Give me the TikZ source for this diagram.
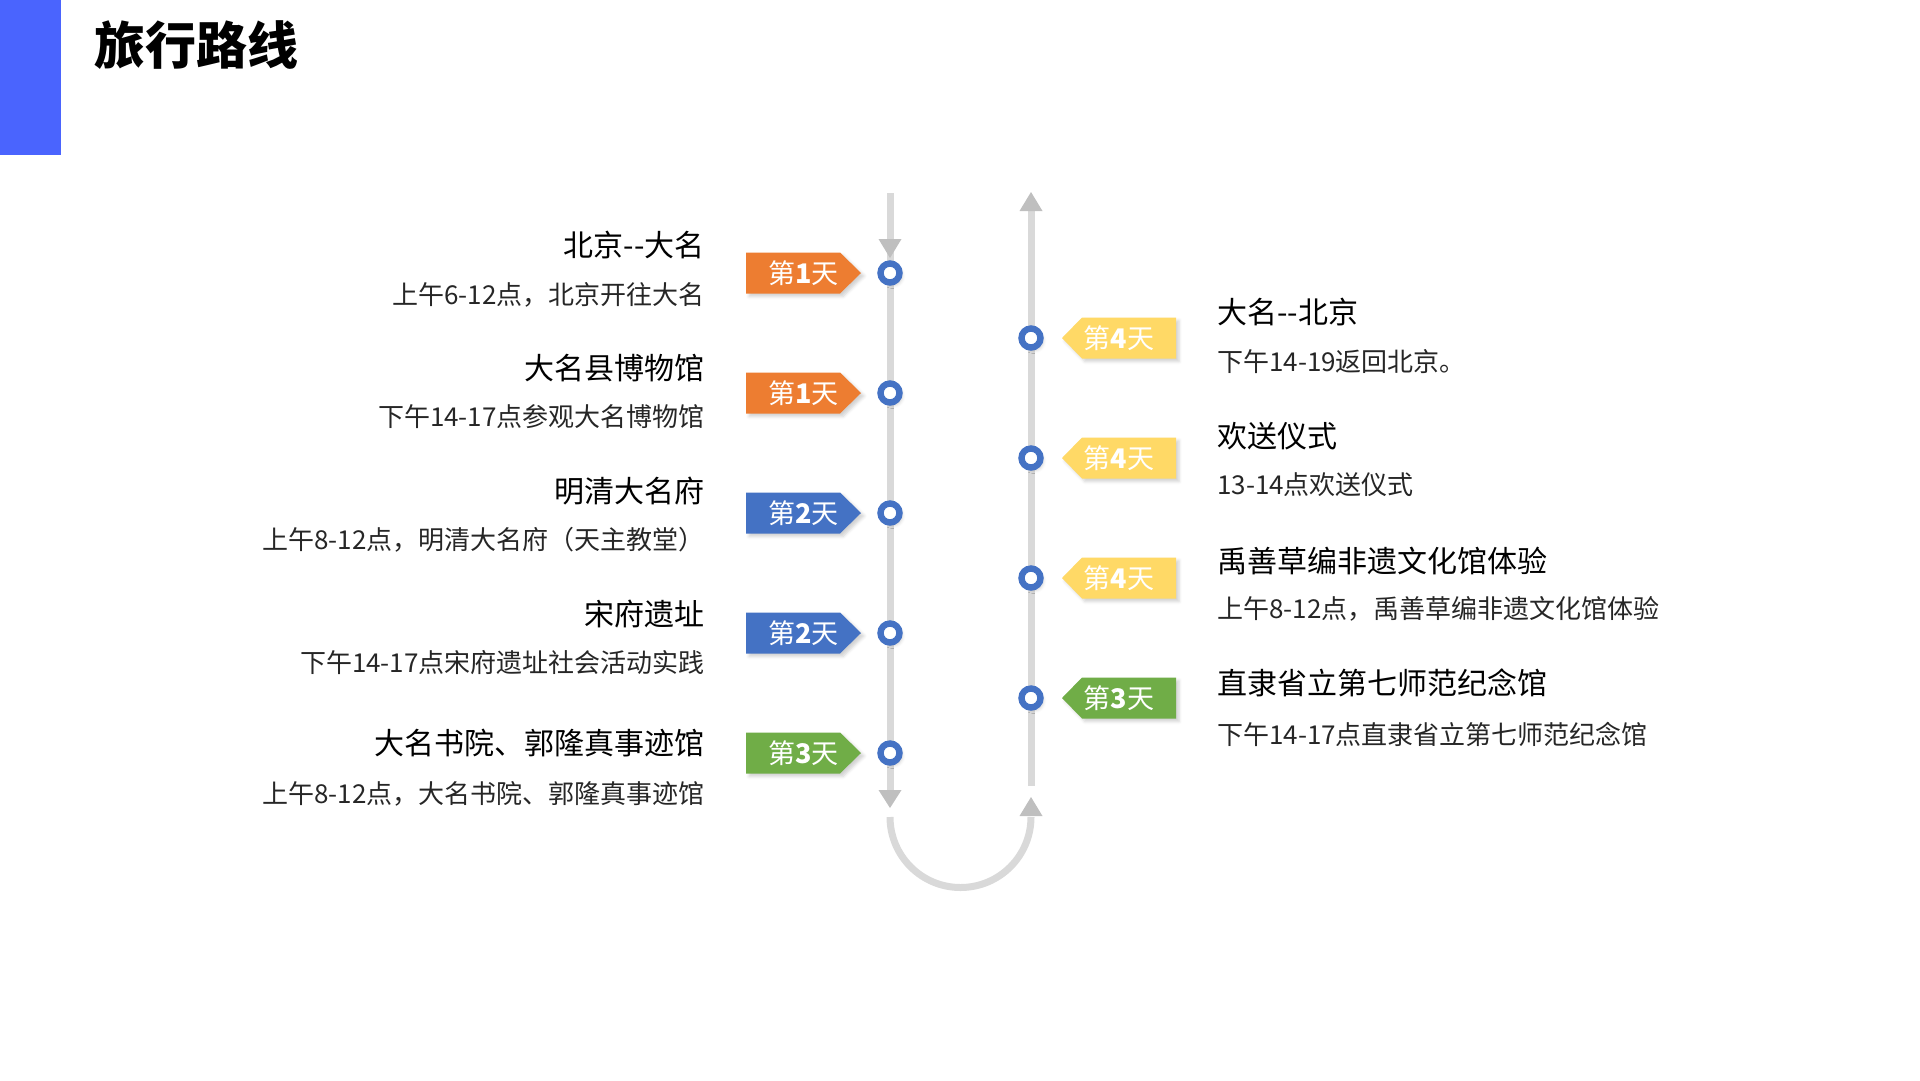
\documentclass[tikz,border=0pt]{standalone}
\usepackage{fontspec}
\setmainfont{Noto Sans CJK SC}
\usetikzlibrary{shadows.blur}
\definecolor{barblue}{HTML}{4A64FE}
\definecolor{tagorange}{HTML}{ED7D31}
\definecolor{tagblue}{HTML}{4472C4}
\definecolor{taggreen}{HTML}{70AD47}
\definecolor{tagyellow}{HTML}{FFD966}
\definecolor{ringblue}{HTML}{4472C4}
\definecolor{trackgray}{HTML}{D9D9D9}
\definecolor{arrowgray}{HTML}{BFBFBF}
\definecolor{subgray}{HTML}{262626}
\tikzset{
  track/.style={draw=trackgray, line width=7pt},
  arrowhead/.style={fill=arrowgray},
  softshadow/.style={blur shadow={shadow xshift=3pt, shadow yshift=-3pt, shadow blur radius=3pt, shadow opacity=18}},
  ring/.style={circle, draw=ringblue, line width=6.4pt, fill=white, minimum size=19pt, inner sep=0pt, softshadow},
  tagtext/.style={text=white, font=\fontsize{27}{30}\selectfont, inner sep=0pt},
  itemtitle/.style={inner sep=0pt, text=black, font=\fontsize{30}{34}\selectfont},
  itemsub/.style={inner sep=0pt, text=subgray, font=\fontsize{26}{30}\selectfont},
}
\begin{document}
\begin{tikzpicture}[x=1pt, y=-1pt]
\useasboundingbox (0,0) rectangle (1920,1080);
% header
\fill[barblue] (0,0) rectangle (61,155);
\node[inner sep=0pt, font=\bfseries\fontsize{51}{60}\selectfont] (title) at (196,45) {旅行路线};

% tracks
\coordinate (ltop) at (890,193);
\coordinate (lbot) at (890,790);
\coordinate (rtop) at (1031,211);
\coordinate (rbot) at (1031,786);
\coordinate (uleft) at (890,817);
\draw[track] (ltop) -- (lbot);
\draw[track] (rtop) -- (rbot);
\draw[track] (uleft) arc[start angle=180, end angle=360, radius=70.5pt];
% arrow heads
\fill[arrowhead] (878.5,239) -- (901.5,239) -- (890,258) -- cycle;
\fill[arrowhead] (878.5,790) -- (901.5,790) -- (890,808) -- cycle;
\fill[arrowhead] (1019.5,211) -- (1042.5,211) -- (1031,192) -- cycle;
\fill[arrowhead] (1019.5,816) -- (1042.5,816) -- (1031,797) -- cycle;

% left items
\foreach \n/\y/\c/\d in {1/273/tagorange/1, 2/393/tagorange/1, 3/513/tagblue/2, 4/633/tagblue/2, 5/753/taggreen/3} {
  \fill[\c, softshadow] (746,{\y-20.5}) -- (840,{\y-20.5}) -- (861,\y) -- (840,{\y+20.5}) -- (746,{\y+20.5}) -- cycle;
  \node[tagtext] (ltag\n) at (803.5,\y) {第\textbf{\d}天};
  \node[ring] (lring\n) at (890,\y) {};
}
% right items
\foreach \n/\y/\c/\d in {1/338/tagyellow/4, 2/458/tagyellow/4, 3/578/tagyellow/4, 4/698/taggreen/3} {
  \fill[\c, softshadow] (1176,{\y-20.5}) -- (1082,{\y-20.5}) -- (1062,\y) -- (1082,{\y+20.5}) -- (1176,{\y+20.5}) -- cycle;
  \node[tagtext] (rtag\n) at (1119,\y) {第\textbf{\d}天};
  \node[ring] (rring\n) at (1031,\y) {};
}

% left texts
\node[itemtitle, anchor=east] (lt1) at (705,245) {北京-{}-大名};
\node[itemsub, anchor=east] (ls1) at (705,295) {上午6-12点，北京开往大名};
\node[itemtitle, anchor=east] (lt2) at (705,368) {大名县博物馆};
\node[itemsub, anchor=east] (ls2) at (705,417) {下午14-17点参观大名博物馆};
\node[itemtitle, anchor=east] (lt3) at (705,491) {明清大名府};
\node[itemsub, anchor=east] (ls3) at (705,540) {上午8-12点，明清大名府（天主教堂）};
\node[itemtitle, anchor=east] (lt4) at (705,614) {宋府遗址};
\node[itemsub, anchor=east] (ls4) at (705,663) {下午14-17点宋府遗址社会活动实践};
\node[itemtitle, anchor=east] (lt5) at (705,743) {大名书院、郭隆真事迹馆};
\node[itemsub, anchor=east] (ls5) at (705,794) {上午8-12点，大名书院、郭隆真事迹馆};

% right texts
\node[itemtitle, anchor=west] (rt1) at (1217,312) {大名-{}-北京};
\node[itemsub, anchor=west] (rs1) at (1217,362) {下午14-19返回北京。};
\node[itemtitle, anchor=west] (rt2) at (1217,436) {欢送仪式};
\node[itemsub, anchor=west] (rs2) at (1217,485) {13-14点欢送仪式};
\node[itemtitle, anchor=west] (rt3) at (1217,561) {禹善草编非遗文化馆体验};
\node[itemsub, anchor=west] (rs3) at (1217,609) {上午8-12点，禹善草编非遗文化馆体验};
\node[itemtitle, anchor=west] (rt4) at (1217,683) {直隶省立第七师范纪念馆};
\node[itemsub, anchor=west] (rs4) at (1217,734) {下午14-17点直隶省立第七师范纪念馆};
\end{tikzpicture}
\end{document}
